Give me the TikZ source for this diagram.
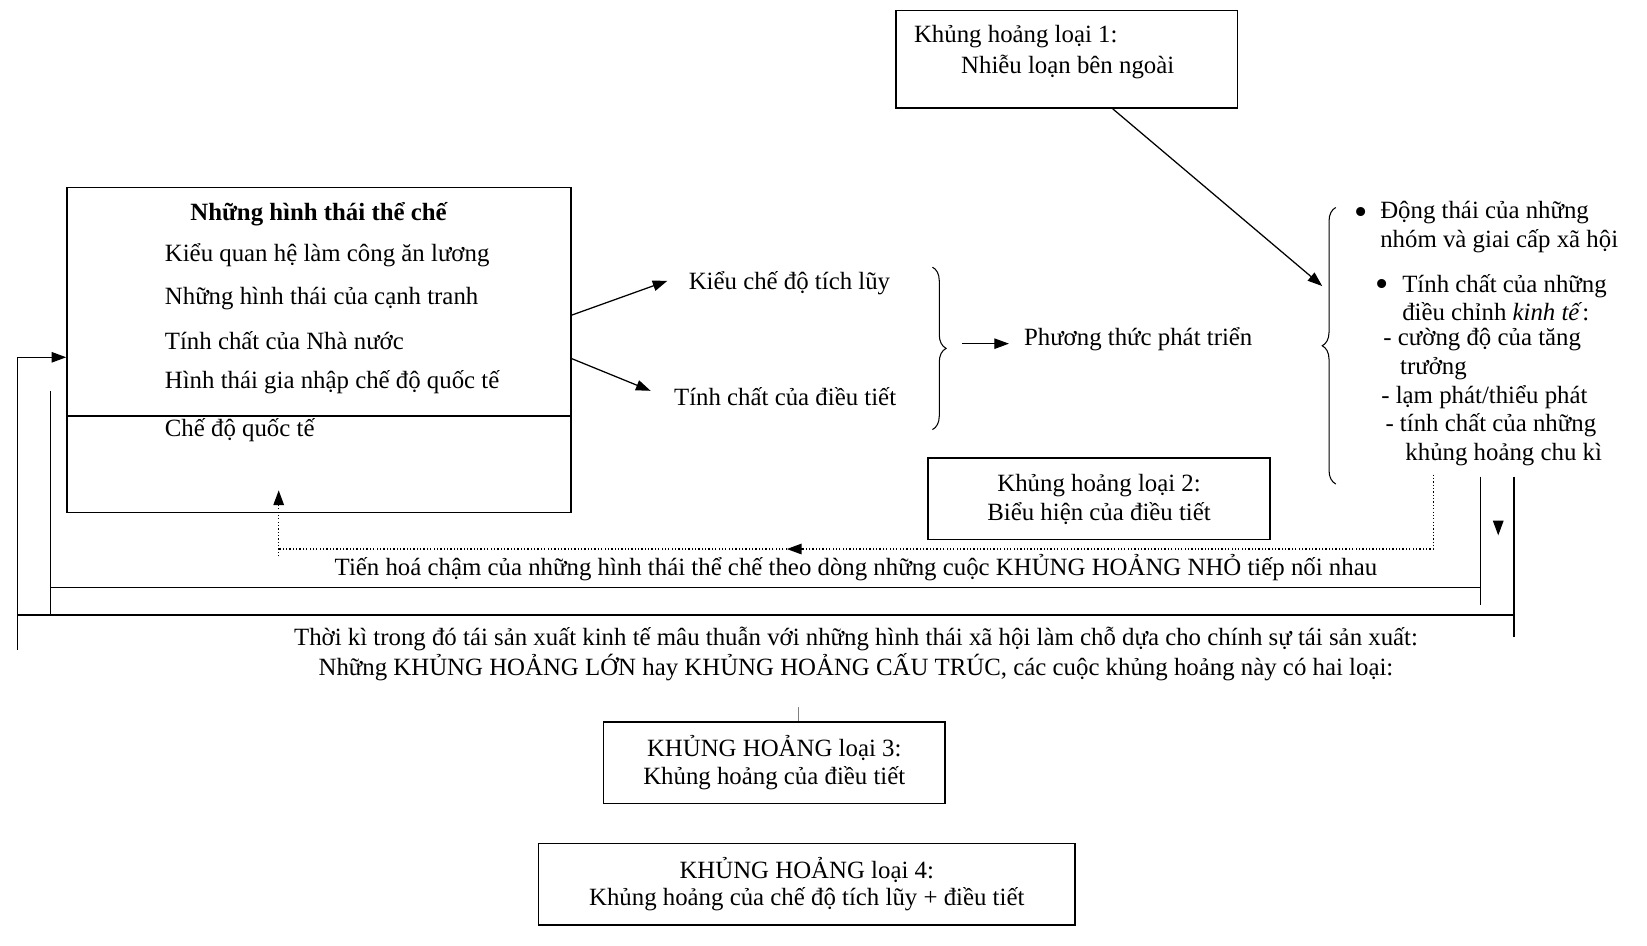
\documentclass[tikz,border=0pt]{standalone}
\usepackage{fontspec}
\setmainfont{Liberation Serif}
\usetikzlibrary{arrows.meta,decorations.pathreplacing}
\newcommand\myfs{\fontsize{11.85}{13.5}\selectfont}
\tikzset{
  txt/.style={inner sep=0pt, font=\myfs, yshift=-1pt},
  bul/.style={inner sep=0pt, font=\fontsize{18}{18}\selectfont, yshift=-2.5pt},
  box/.style={draw, line width=0.8pt, inner sep=0pt},
  conn/.style={line width=0.6pt, -{Triangle[length=7pt,width=5pt]}},
  ln/.style={line width=0.6pt},
  dots/.style={line width=0.6pt, densely dotted},
  brc/.style={line width=0.5pt, decorate, decoration={brace, amplitude=6.5pt}},
}
\begin{document}
\begin{tikzpicture}[x=0.5pt,y=-0.5pt]
\useasboundingbox (0,0) rectangle (1572,902);
% box 1
\node[box, minimum width=163pt, minimum height=46.5pt] (b1) at (1018,56.5) {};
\node[txt, anchor=west] (b1a) at (872,33) {Khủng hoảng loại 1:};
\node[txt, anchor=west] (b1b) at (917,62) {Nhiễu loạn bên ngoài};
% main box
\node[box, minimum width=240.5pt, minimum height=155pt] (mb) at (304.5,334) {};
\coordinate (dl) at (64,397);
\draw[box] (dl) -- (dl -| mb.east);
\node[txt, font=\myfs\bfseries] (mt) at (304,202) {Những hình thái thể chế};
\node[txt, anchor=west] (m1) at (157,242) {Kiểu quan hệ làm công ăn lương};
\node[txt, anchor=west] (m2) at (157,283) {Những hình thái của cạnh tranh};
\node[txt, anchor=west] (m3) at (157,323) {Tính chất của Nhà nước};
\node[txt, anchor=west] (m4) at (157,363) {Hình thái gia nhập chế độ quốc tế};
\node[txt, anchor=west] (m5) at (157,409) {Chế độ quốc tế};
% middle
\node[txt, anchor=west] (acc) at (657,268) {Kiểu chế độ tích lũy};
\node[txt, anchor=west] (reg) at (643,377) {Tính chất của điều tiết};
\coordinate (o1) at (545,301);
\coordinate (o2) at (545,342);
\draw[conn] (o1) -- ([xshift=-10pt,yshift=1pt]acc.west);
\draw[conn] (o2) -- ([xshift=-11pt,yshift=3pt]reg.west);
\coordinate (rb1) at (890,255);
\coordinate (rb2) at (890,410);
\draw[brc] (rb1) -- (rb2);
\node[txt, anchor=west] (pt) at (977,322) {Phương thức phát triển};
\coordinate (pa) at (918,328);
\draw[conn] (pa) -- (pa -| 963,0);
% right brace and list
\coordinate (lb1) at (1275,462);
\coordinate (lb2) at (1275,198);
\draw[brc] (lb1) -- (lb2);
\coordinate (lbt) at (1262,273);
\draw[conn] ([xshift=22pt]b1.south) -- (lbt);
\node[bul] (bu1) at (1299,201) {\textbullet};
\node[txt, anchor=base west, align=left] (r12) at (1317,234) {Động thái của những\\nhóm và giai cấp xã hội};
\node[bul] (bu2) at (1319,270) {\textbullet};
\node[txt, anchor=base west, align=left] (r34) at (1338,304) {Tính chất của những\\điều chỉnh \textit{kinh tế}:};
\node[txt, anchor=west] (r5) at (1320,322) {- cường độ của tăng};
\node[txt, anchor=west] (r6) at (1336,350) {trưởng};
\node[txt, anchor=west] (r7) at (1318,377) {- lạm phát/thiểu phát};
\node[txt, anchor=west] (r8) at (1322,404) {- tính chất của những};
\node[txt, anchor=west] (r9) at (1341,432) {khủng hoảng chu kì};
% box 2
\node[box, minimum width=163pt, minimum height=39pt] (b2) at (1049,476) {};
\node[txt] (b2a) at (1049,461) {Khủng hoảng loại 2:};
\node[txt] (b2b) at (1049,488) {Biểu hiện của điều tiết};
% dotted feedback
\coordinate (d1) at (1368,453);
\coordinate (d2) at (266,524);
\coordinate (d3) at (266,531);
\coordinate (d4) at (266,468);
\draw[dots] (d1) |- (d2);
\draw[dots, -{Triangle[length=7pt,width=5pt]}] (d3) -- (d4);
\coordinate (dm) at (765,524);
\draw[line width=0.6pt, -{Triangle[length=7pt,width=5pt]}] (dm) -- ([xshift=-7pt]dm);
\node[txt] (slow) at (817,540) {Tiến hoá chậm của những hình thái thể chế theo dòng những cuộc KHỦNG HOẢNG NHỎ tiếp nối nhau};
% inner loop
\coordinate (i1) at (1413,455);
\coordinate (i2) at (1413,577);
\coordinate (i3) at (48,561);
\coordinate (i4) at (48,373);
\coordinate (i5) at (48,587);
\draw[ln] (i1) -- (i2);
\draw[ln] (i3) -- (i3 -| i1);
\draw[ln] (i4) -- (i5);
% outer loop
\coordinate (e1) at (1445,455);
\coordinate (e2) at (1445,608);
\coordinate (e3) at (17,587);
\coordinate (e4) at (17,341);
\coordinate (e5) at (17,620);
\draw[ln] (e1) -- (e2);
\draw[ln] (e3) -- (e3 -| e1);
\draw[ln] (e5) -- (e4);
\draw[conn] (e4) -- (e4 -| mb.west);
\coordinate (da) at (1430,497);
\draw[line width=0.6pt, -{Triangle[length=7pt,width=5pt]}] (da) -- ([yshift=-7pt]da);
\node[txt] (big1) at (817,608) {Thời kì trong đó tái sản xuất kinh tế mâu thuẫn với những hình thái xã hội làm chỗ dựa cho chính sự tái sản xuất:};
\node[txt] (big2) at (817,635) {Những KHỦNG HOẢNG LỚN hay KHỦNG HOẢNG CẤU TRÚC, các cuộc khủng hoảng này có hai loại:};
% box 3
\node[box, minimum width=163pt, minimum height=39pt] (b3) at (739,728) {};
\draw[line width=0.3pt, gray] (b3.north -| 762,0) -- ++(0,-13);
\node[txt] (b3a) at (739,712) {KHỦNG HOẢNG loại 3:};
\node[txt] (b3b) at (739,741) {Khủng hoảng của điều tiết};
% box 4
\node[box, minimum width=256pt, minimum height=39pt] (b4) at (770,844) {};
\node[txt] (b4a) at (770,828) {KHỦNG HOẢNG loại 4:};
\node[txt] (b4b) at (770,856) {Khủng hoảng của chế độ tích lũy + điều tiết};
\end{tikzpicture}
\end{document}
